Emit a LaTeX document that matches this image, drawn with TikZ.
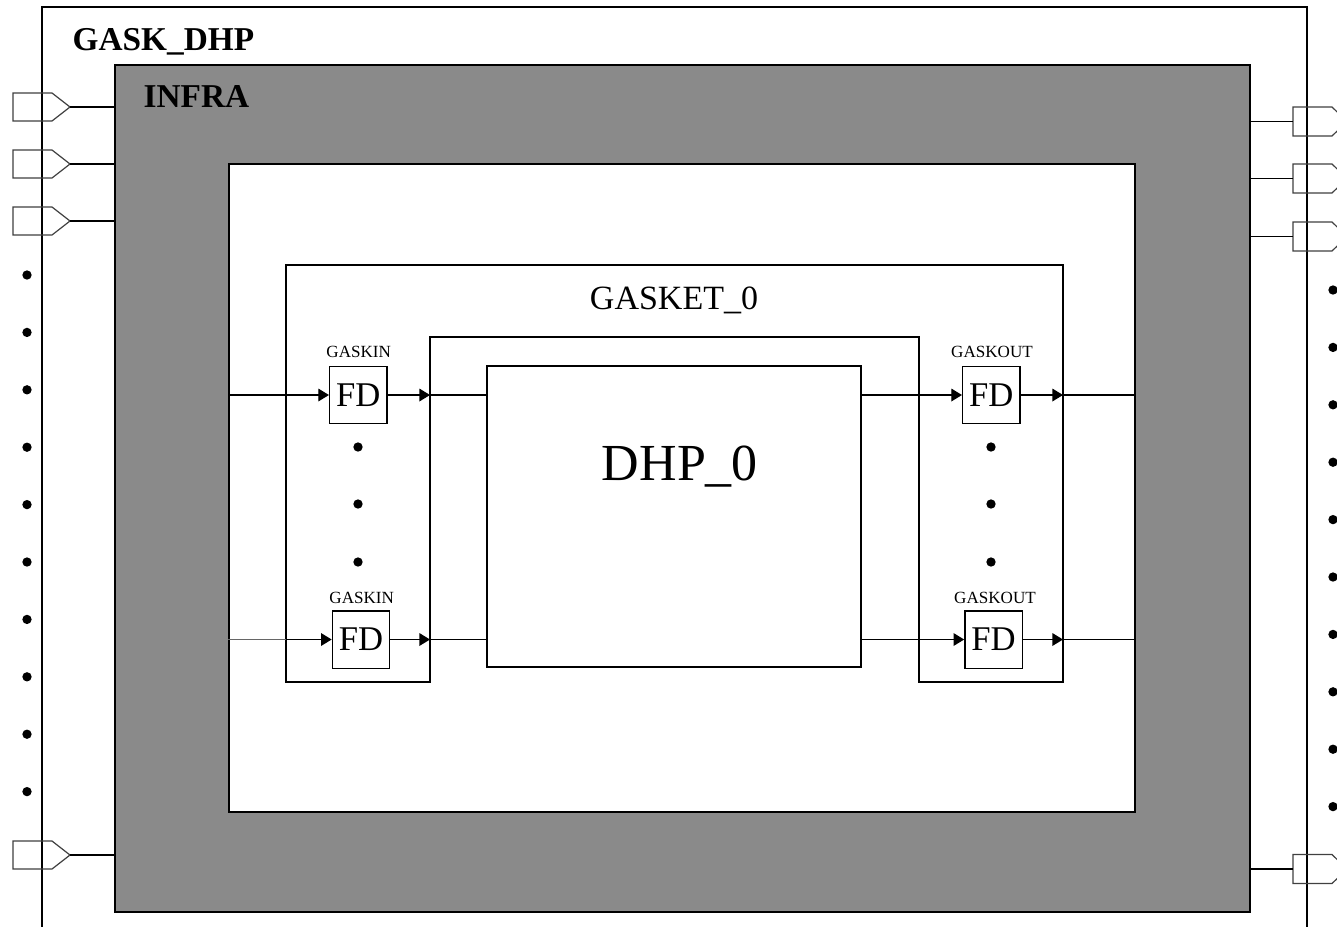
\documentclass[tikz,border=0pt]{standalone}
\usepackage{fontspec}
\setmainfont{Liberation Serif}
\usetikzlibrary{arrows.meta,fit,calc}
\definecolor{infragray}{HTML}{8A8A8A}
\begin{document}
\begin{tikzpicture}[x=0.75pt,y=-0.75pt, line width=1pt,
  arr/.style={-{Triangle[length=8pt,width=9.5pt]}},
  fdbox/.style={draw, minimum size=43pt, inner sep=0, font=\fontsize{26}{26}\selectfont},
  small/.style={font=\fontsize{12.8}{13}\selectfont, inner sep=0, anchor=base},
  port/.style={draw=black!75, line width=0.9pt},
  dot/.style={circle, fill, inner sep=0, minimum size=7pt},
  big/.style={font=\bfseries\fontsize{25}{25}\selectfont, inner sep=0, anchor=base west}]
\path[use as bounding box] (0,0) rectangle (1337,926);
\fill[white] (0,0) rectangle (1337,926);
\begin{scope}
\clip (0,0) rectangle (1337,926);
% outer GASK_DHP box
\draw (42,940) -- (42,7) -- (1307,7) -- (1307,940);
% INFRA and core
\node[fit={(115,65)(1250,912)}, inner sep=0, draw, fill=infragray] (infra) {};
\node[fit={(229,164)(1135,812)}, inner sep=0, draw, fill=white] (core) {};
% left ports
\foreach \y/\n in {107/1,164/2,221/3,855/4}{
  \draw[port] (13,\y-14) -- (52,\y-14) -- (70,\y) -- (52,\y+14) -- (13,\y+14) -- cycle;
  \coordinate (lp\n) at (70,\y);
  \draw (lp\n) -- (infra.west |- lp\n);
}
% right ports
\foreach \y/\n in {121.5/1,178.5/2,236.5/3,869/4}{
  \draw[port] (1293,\y-14.5) -- (1332,\y-14.5) -- (1347,\y) -- (1332,\y+14.5) -- (1293,\y+14.5) -- cycle;
  \coordinate (rp\n) at (1293,\y);
  \draw (infra.east |- rp\n) -- (rp\n);
}
% dots on the sides
\foreach \k in {0,...,9}{
  \node[dot] (ld\k) at (27,275+57.4*\k) {};
  \node[dot] (rd\k) at (1333,290+57.4*\k) {};
}
\end{scope}
% labels
\node[big] (title) at (72,50) {GASK\_DHP};
\node[big] (infralbl) at (143,107) {INFRA};
% GASKET_0 outline
\draw (286,265) -- (1063,265) -- (1063,682) -- (919,682) -- (919,337) -- (430,337) -- (430,682) -- (286,682) -- cycle;
\coordinate (gl) at (430,337);
\coordinate (gr) at (919,337);
\coordinate (gol) at (286,265);
\coordinate (gor) at (1063,265);
\node[anchor=base, inner sep=0, font=\fontsize{25.5}{26}\selectfont] (gasklbl) at (674,309) {GASKET\_0};
% DHP_0
\node[fit={(487,366)(861,667)}, inner sep=0, draw] (dhp) {};
\node[anchor=base, inner sep=0, font=\fontsize{39}{39}\selectfont] (dhplbl) at (680,480) {DHP\_0};
% FD boxes
\node[fdbox] (fdA) at (358.3,395) {FD};
\node[fdbox] (fdB) at (361,639.5) {FD};
\node[fdbox] (fdC) at (991.3,395) {FD};
\node[fdbox] (fdD) at (993.5,639.5) {FD};
\node[small] (lA) at (358.7,357) {GASKIN};
\node[small] (lB) at (361.7,603) {GASKIN};
\node[small] (lC) at (992,357.5) {GASKOUT};
\node[small] (lD) at (995,603) {GASKOUT};
% vertical dots
\foreach \y/\k in {447/1,504/2,562/3}{
  \node[dot] (dl\k) at (358,\y) {};
  \node[dot] (dr\k) at (991,\y) {};
}
% connectors top row
\draw[arr] (core.west |- fdA.west) -- (fdA.west);
\draw[arr] (fdA.east) -- (gl |- fdA.east);
\draw (gl |- fdA.east) -- (dhp.west |- fdA.east);
\draw[arr] (dhp.east |- fdC.west) -- (fdC.west);
\draw[arr] (fdC.east) -- (gor |- fdC.east);
\draw (gor |- fdC.east) -- (core.east |- fdC.east);
% connectors bottom row
\draw[black!60] (core.west |- fdB.west) -- (gol |- fdB.west);
\draw[arr] (gol |- fdB.west) -- (fdB.west);
\draw[arr] (fdB.east) -- (gl |- fdB.east);
\draw (gl |- fdB.east) -- (dhp.west |- fdB.east);
\draw[arr] (dhp.east |- fdD.west) -- (fdD.west);
\draw[arr] (fdD.east) -- (gor |- fdD.east);
\draw (gor |- fdD.east) -- (core.east |- fdD.east);
\end{tikzpicture}
\end{document}
